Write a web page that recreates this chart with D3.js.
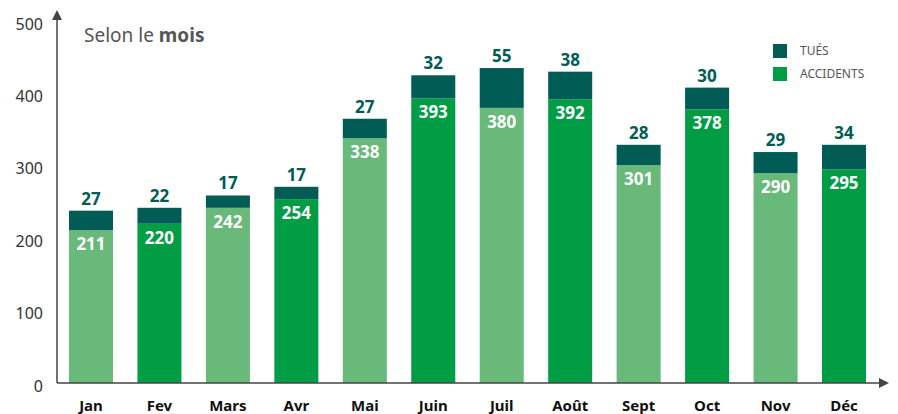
<!DOCTYPE html>
<html>
<head>
<meta charset="utf-8">
<script src="https://cdn.jsdelivr.net/npm/d3@7"></script>
<style>
  body { margin: 0; background: #fff; }
  svg { display: block; font-family: 'Noto Sans', sans-serif; }
</style>
</head>
<body>
<div id="chart"></div>
<script>
const months = ['Jan', 'Fev', 'Mars', 'Avr', 'Mai', 'Juin', 'Juil', 'Août', 'Sept', 'Oct', 'Nov', 'Déc']
const accidents = [211, 220, 242, 254, 338, 393, 380, 392, 301, 378, 290, 295]
const tues = [27, 22, 17, 17, 27, 32, 55, 38, 28, 30, 29, 34]
const yTicks = [0, 100, 200, 300, 400, 500]
const legendLabels = ['TUÉS', 'ACCIDENTS']

const width = 898
const height = 414
const x0 = 57
const y0 = 383

const light = '#68b97a'
const dark = '#009d45'
const teal = '#005c55'

const data = months.map((m, i) => ({ name: m, accidents: accidents[i], tues: tues[i], i }))

const svg = d3.select('#chart')
  .append('svg')
  .attr('width', width)
  .attr('height', height)

const xScale = d3.scaleBand()
  .domain(months)
  .range([x0, 878])
  .paddingInner(0.357)
  .paddingOuter(0.175)

const yScale = d3.scaleLinear()
  .domain([0, 500])
  .range([y0, 21])

// y tick labels
svg.append('g')
  .selectAll('text')
  .data(yTicks)
  .join('text')
  .attr('x', 43)
  .attr('y', (d) => yScale(d) + 3)
  .attr('dy', '0.35em')
  .attr('text-anchor', 'end')
  .attr('font-size', 16)
  .attr('fill', '#333')
  .text((d) => d)

// bars
const bars = svg.append('g')
  .selectAll('g')
  .data(data)
  .join('g')

bars.append('rect')
  .attr('x', (d) => xScale(d.name))
  .attr('y', (d) => yScale(d.accidents))
  .attr('width', xScale.bandwidth())
  .attr('height', (d) => yScale(0) - yScale(d.accidents))
  .attr('fill', (d) => (d.i % 2 === 0 ? light : dark))

bars.append('rect')
  .attr('x', (d) => xScale(d.name))
  .attr('y', (d) => yScale(d.accidents + d.tues))
  .attr('width', xScale.bandwidth())
  .attr('height', (d) => yScale(d.accidents) - yScale(d.accidents + d.tues))
  .attr('fill', teal)

bars.append('text')
  .attr('x', (d) => xScale(d.name) + xScale.bandwidth() / 2)
  .attr('y', (d) => yScale(d.accidents) + 20)
  .attr('text-anchor', 'middle')
  .attr('font-size', 17)
  .attr('font-weight', 'bold')
  .attr('fill', '#fff')
  .text((d) => d.accidents)

bars.append('text')
  .attr('x', (d) => xScale(d.name) + xScale.bandwidth() / 2)
  .attr('y', (d) => yScale(d.accidents + d.tues) - 6)
  .attr('text-anchor', 'middle')
  .attr('font-size', 17)
  .attr('font-weight', 'bold')
  .attr('fill', teal)
  .text((d) => d.tues)

// month labels
svg.append('g')
  .selectAll('text')
  .data(months)
  .join('text')
  .attr('x', (d) => xScale(d) + xScale.bandwidth() / 2)
  .attr('y', 411)
  .attr('text-anchor', 'middle')
  .attr('font-size', 15)
  .attr('font-weight', 'bold')
  .attr('fill', '#111')
  .text((d) => d)

// axes with arrows
svg.append('defs').append('marker')
  .attr('id', 'arrow')
  .attr('viewBox', '0 0 10 10')
  .attr('refX', 5)
  .attr('refY', 5)
  .attr('markerWidth', 10)
  .attr('markerHeight', 10)
  .attr('markerUnits', 'userSpaceOnUse')
  .attr('orient', 'auto')
  .append('path')
  .attr('d', 'M0,0 L10,5 L0,10 Z')
  .attr('fill', '#444')

svg.append('line')
  .attr('x1', x0).attr('y1', y0)
  .attr('x2', x0).attr('y2', 15)
  .attr('stroke', '#444')
  .attr('stroke-width', 1.5)
  .attr('marker-end', 'url(#arrow)')

svg.append('line')
  .attr('x1', x0).attr('y1', y0)
  .attr('x2', 884).attr('y2', y0)
  .attr('stroke', '#444')
  .attr('stroke-width', 1.5)
  .attr('marker-end', 'url(#arrow)')

// title
const title = svg.append('text')
  .attr('x', 84)
  .attr('y', 42)
  .attr('font-size', 19)
  .attr('fill', '#555')
title.append('tspan').text('Selon le ')
title.append('tspan').attr('font-weight', 'bold').text('mois')

// legend
const legend = svg.append('g')
  .attr('transform', 'translate(773, 44)')
  .selectAll('g')
  .data(legendLabels)
  .join('g')
  .attr('transform', (d, i) => `translate(0, ${i * 23})`)

legend.append('rect')
  .attr('width', 14)
  .attr('height', 14)
  .attr('fill', (d, i) => (i === 0 ? teal : dark))

legend.append('text')
  .attr('x', 27)
  .attr('y', 7)
  .attr('dy', '0.35em')
  .attr('font-size', 12)
  .attr('fill', '#555')
  .text((d) => d)
</script>
</body>
</html>
